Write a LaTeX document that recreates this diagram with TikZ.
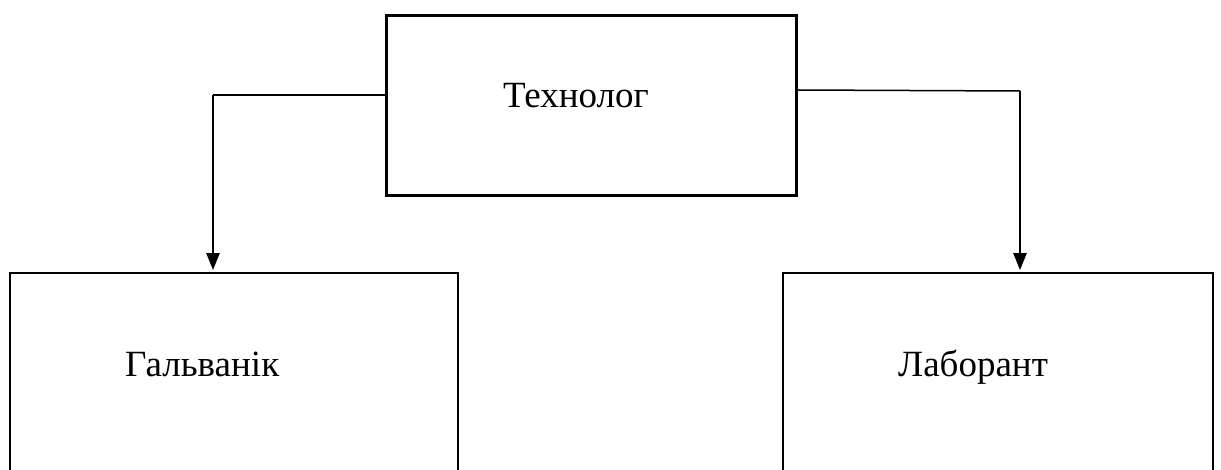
\documentclass[tikz,border=0pt]{standalone}
\usepackage{fontspec}
\setmainfont{Liberation Serif}
\usetikzlibrary{arrows.meta}
\begin{document}
\begin{tikzpicture}[x=1pt,y=-1pt,
  boxst/.style={draw,line width=2.8pt,inner sep=0pt,rectangle},
  lbl/.style={anchor=base west,inner sep=0pt,font=\fontsize{37}{44}\selectfont},
  conn/.style={line width=2.4pt,-{Triangle[length=17pt,width=13pt]}}]
\useasboundingbox (0,0) rectangle (1221,470);
\clip (0,0) rectangle (1221,470);
\node[boxst,minimum width=410pt,minimum height=180pt] (top) at (591.5,105.5) {};
\node[boxst,minimum width=448pt,minimum height=260pt] (lbox) at (234,403) {};
\node[boxst,minimum width=430pt,minimum height=260pt] (rbox) at (998,403) {};
\node[lbl] (ttop) at (503,108) {Технолог};
\node[lbl] (tl) at (125,376) {Гальванік};
\node[lbl] (tr) at (898,377) {Лаборант};
\coordinate (lout) at (top.west |- 0,95);
\coordinate (lbend) at (213,95);
\coordinate (rout) at (top.east |- 0,90);
\coordinate (rbend) at (1020,91);
\draw[line width=2.4pt] (lout) -- (lbend);
\draw[conn] (lbend) -- ([yshift=1.5pt]lbend |- lbox.north);
\draw[line width=1.5pt] (rout) -- (rbend);
\draw[conn] (rbend) -- ([yshift=1.5pt]rbend |- rbox.north);
\end{tikzpicture}
\end{document}
